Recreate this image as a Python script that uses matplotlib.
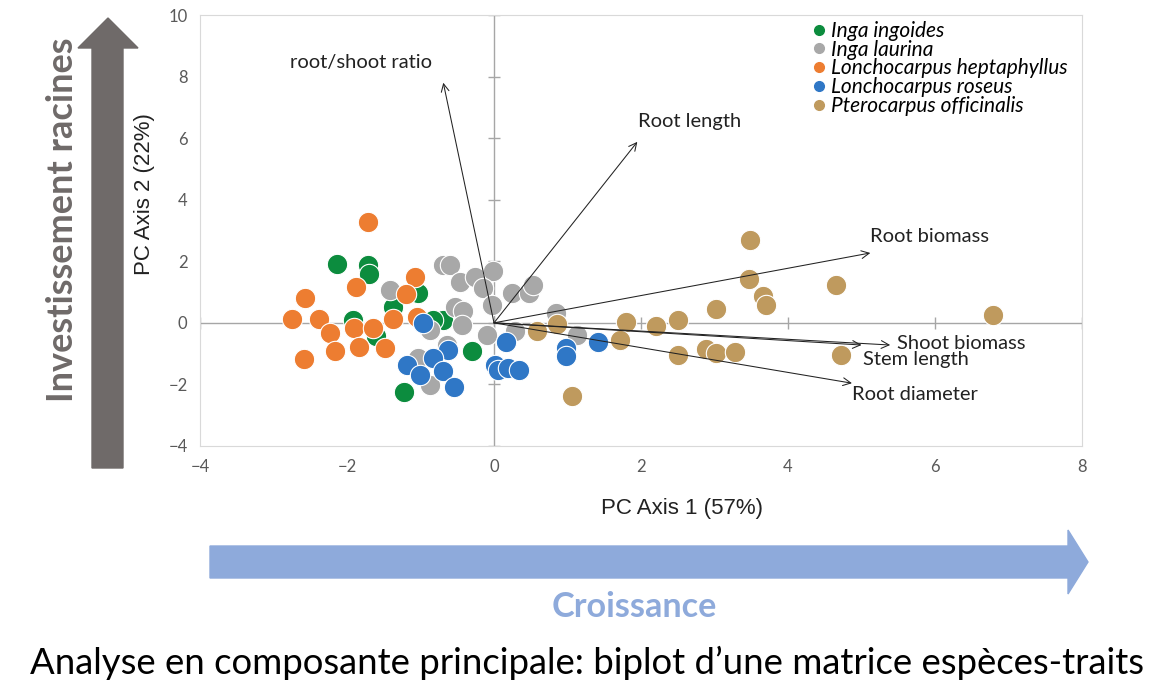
import numpy as np
import matplotlib
matplotlib.use("Agg")
import matplotlib.pyplot as plt
from matplotlib.patches import Polygon
from matplotlib.lines import Line2D

plt.rcParams['font.family'] = ['Lato', 'DejaVu Sans']

# species scores on PC1 / PC2
species = ['Inga ingoides', 'Inga laurina', 'Lonchocarpus heptaphyllus',
           'Lonchocarpus roseus', 'Pterocarpus officinalis']
colors = ['#0c8c3e', '#a8a8a8', '#ed7d31', '#2f77c6', '#bf9a5e']

ingoides_x = [-2.14, -1.71, -1.70, -1.03, -1.37, -1.92, -1.61, -1.23, -0.69, -0.83, -0.30]
ingoides_y = [1.92, 1.88, 1.59, 0.96, 0.53, 0.10, -0.42, -2.23, 0.10, 0.10, -0.93]

laurina_x = [-0.69, -0.60, -0.46, -0.26, -0.01, -0.15, -0.03, 0.24, 0.47, 0.53, -1.41,
             -0.53, -0.42, -0.44, -0.87, -0.10, 0.29, -0.64, -1.03, -0.87, 0.85, 1.13]
laurina_y = [1.88, 1.88, 1.34, 1.50, 1.67, 1.13, 0.58, 0.96, 0.96, 1.23, 1.07,
             0.53, 0.37, -0.06, -0.23, -0.39, -0.28, -0.71, -1.15, -2.01, 0.31, -0.39]

hepta_x = [-1.72, -2.57, -1.88, -1.07, -1.20, -2.75, -2.38, -1.37, -1.05, -2.23,
           -1.91, -1.64, -2.17, -1.83, -1.48, -2.59]
hepta_y = [3.26, 0.80, 1.16, 1.48, 0.94, 0.13, 0.13, 0.13, 0.20, -0.34,
           -0.17, -0.17, -0.90, -0.79, -0.82, -1.18]

roseus_x = [-0.96, 0.17, -0.62, -0.83, -1.18, -1.01, -0.69, -0.54, 0.01, 0.06,
            0.19, 0.34, 0.98, 0.98, 1.42]
roseus_y = [-0.01, -0.61, -0.88, -1.15, -1.36, -1.69, -1.58, -2.07, -1.36, -1.53,
            -1.47, -1.53, -0.82, -1.09, -0.61]

ptero_x = [3.48, 3.47, 3.66, 3.70, 3.02, 2.51, 2.21, 1.79, 1.72, 0.86, 0.58,
           2.51, 2.88, 3.02, 3.28, 1.06, 6.79, 4.65, 4.72]
ptero_y = [2.69, 1.42, 0.88, 0.58, 0.44, 0.10, -0.10, 0.04, -0.57, -0.03, -0.25,
           -1.04, -0.85, -0.98, -0.96, -2.36, 0.26, 1.23, -1.04]

xs = [ingoides_x, laurina_x, hepta_x, roseus_x, ptero_x]
ys = [ingoides_y, laurina_y, hepta_y, roseus_y, ptero_y]

# trait loadings
traits = ['root/shoot ratio', 'Root length', 'Root biomass',
          'Shoot biomass', 'Stem length', 'Root diameter']
load_x = [-0.69, 1.95, 5.12, 5.39, 5.00, 4.87]
load_y = [7.80, 5.88, 2.27, -0.72, -0.72, -1.96]

# where each trait label sits (data coords) and its alignment
label_pos = [(-1.81, 8.47, 'center'), (1.96, 6.53, 'left'), (5.12, 2.79, 'left'),
             (5.48, -0.68, 'left'), (5.02, -1.20, 'left'), (4.87, -2.34, 'left')]

W, H = 1155, 689
fig = plt.figure(figsize=(W / 100, H / 100), dpi=100)
ax = fig.add_axes([200 / W, 1 - 446 / H, 882 / W, 431 / H])

ax.set_xlim(-4, 8)
ax.set_ylim(-4, 10)
ax.set_xticks(range(-4, 9, 2))
ax.set_yticks(range(-4, 11, 2))
ax.tick_params(length=0, labelsize=12, labelcolor='#595959', pad=9)
for s in ax.spines.values():
    s.set_color('#d9d9d9')
    s.set_linewidth(0.8)

# zero lines with their little tick marks
ax.axhline(0, color='#a6a6a6', lw=1, zorder=1)
ax.axvline(0, color='#a6a6a6', lw=1, zorder=1)
ax.plot([0] * 8, range(-4, 11, 2), ls='none', marker='_', ms=9, color='#a6a6a6', zorder=1)
ax.plot(range(-4, 9, 2), [0] * 7, ls='none', marker='|', ms=9, color='#a6a6a6', zorder=1)

for x, y, c in zip(xs, ys, colors):
    ax.scatter(x, y, s=215, color=c, edgecolors='white', linewidths=0.8, zorder=3)

for name, lx, ly, (tx, ty, ha) in zip(traits, load_x, load_y, label_pos):
    ax.annotate('', xy=(lx, ly), xytext=(0, 0),
                arrowprops=dict(arrowstyle='->', lw=0.75, color='#222222',
                                mutation_scale=14, shrinkA=0, shrinkB=0), zorder=4)
    ax.text(tx, ty, name, ha=ha, va='center', fontsize=14.5, color='#222222', zorder=5)

ax.set_xlabel('PC Axis 1 (57%)', fontsize=16, family='Liberation Sans', color='#222222',
              va='center')
ax.xaxis.set_label_coords(0.5465, -0.146)
ax.set_ylabel('PC Axis 2 (22%)', fontsize=16, family='Liberation Sans', color='#222222',
              va='center', ha='center')
ax.yaxis.set_label_coords(-0.0624, 0.585)

handles = [Line2D([], [], ls='none', marker='o', ms=7, color=c) for c in colors]
ax.legend(handles, species, loc='upper left', bbox_to_anchor=(0.673, 1.03),
          frameon=False, handlelength=0.6, handletextpad=0.3, labelspacing=-0.06,
          prop={'style': 'italic', 'size': 15})

# big explanatory arrows around the plot
def px_poly(pts, color):
    fig.patches.append(Polygon([(x / W, 1 - y / H) for x, y in pts], closed=True,
                               transform=fig.transFigure, color=color, zorder=0))

px_poly([(92, 468), (123, 468), (123, 48), (138, 48), (108, 18), (78, 48), (92, 48)], '#6f6a69')
px_poly([(210, 546), (1068, 546), (1068, 530), (1088, 562), (1068, 594), (1068, 578), (210, 578)],
        '#8eaadb')

fig.text(63 / W, 1 - 220 / H, 'Investissement racines', rotation=90, ha='center', va='center',
         fontsize=26, fontweight='bold', color='#6f6a69')
fig.text(634 / W, 1 - 607 / H, 'Croissance', ha='center', va='center',
         fontsize=24.6, fontweight='bold', color='#8eaadb')
fig.text(587 / W, 1 - 663 / H,
         'Analyse en composante principale: biplot d\u2019une matrice esp\u00e8ces-traits',
         ha='center', va='center', fontsize=26.3, color='black')

fig.savefig('out.png', dpi=100)
